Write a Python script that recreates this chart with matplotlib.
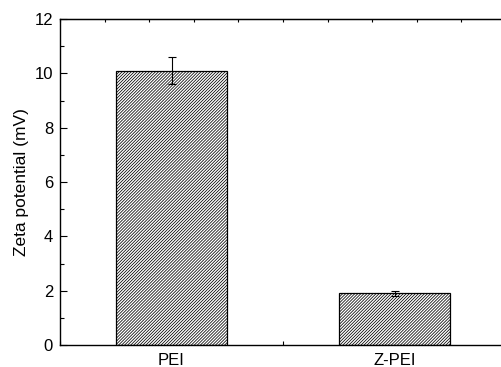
import numpy as np
import matplotlib.pyplot as plt
from matplotlib.ticker import MultipleLocator

plt.rcParams['font.family'] = ['Liberation Sans', 'DejaVu Sans']
plt.rcParams['hatch.linewidth'] = 0.55

# Данные
categories = ['PEI', 'Z-PEI']
values = [10.1, 1.9]
errors = [0.5, 0.1]

fig = plt.figure(figsize=(5.01, 3.67), dpi=100)
ax = fig.add_axes([60 / 501, 1 - 345 / 367, 446 / 501, 326 / 367])

x = np.arange(1, len(categories) + 1)
ax.bar(x, values, width=0.5, color='white', edgecolor='black',
       hatch='/' * 11, linewidth=0.9, zorder=2)
ax.errorbar(x, values, yerr=errors, fmt='none', ecolor='black',
            elinewidth=0.8, capsize=3, capthick=0.8, zorder=3)

ax.set_xlim(0.5, 2.5)
ax.set_ylim(0, 12)
ax.set_xticks(x)
ax.set_xticklabels(categories)
ax.xaxis.set_minor_locator(MultipleLocator(0.5))
ax.yaxis.set_major_locator(MultipleLocator(2))
ax.yaxis.set_minor_locator(MultipleLocator(1))

ax.tick_params(axis='both', which='both', direction='in', labelsize=12,
               width=0.8)
ax.tick_params(axis='both', which='major', length=5)
ax.tick_params(axis='both', which='minor', length=3)
ax.tick_params(axis='x', which='both', pad=6)
ax.tick_params(axis='y', which='both', pad=5)

# Верхняя ось с мелкими делениями
top = ax.secondary_xaxis('top')
top.set_xticks(np.arange(0.5, 2.51, 0.2))
top.tick_params(direction='in', length=2, width=0.8, labeltop=False)

for s in ax.spines.values():
    s.set_linewidth(1.0)
ax.spines['right'].set_visible(False)

ax.set_ylabel('Zeta potential (mV)', fontsize=12.5, labelpad=4)

fig.savefig('out.png', dpi=100)
